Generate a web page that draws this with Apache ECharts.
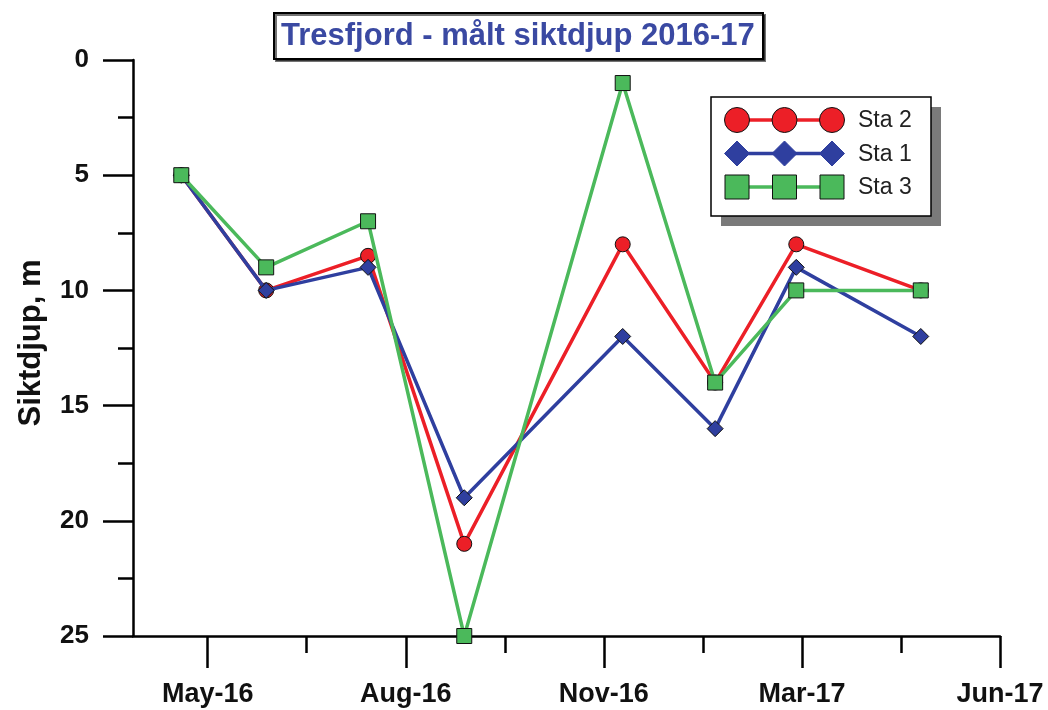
<!DOCTYPE html>
<html>
<head>
<meta charset="utf-8">
<script src="https://cdn.jsdelivr.net/npm/echarts@6/dist/echarts.min.js"></script>
<style>html,body{margin:0;padding:0;background:#fff;}#c{width:1048px;height:710px;}</style>
</head>
<body>
<div id="c"></div>
<script>
// ---- data ----
const titleText = 'Tresfjord - målt siktdjup 2016-17';
const yAxisName = 'Siktdjup, m';
const sampleDates = ['2016-04-17', '2016-06-01', '2016-07-25', '2016-09-14', '2016-12-07', '2017-01-25', '2017-03-09', '2017-05-14'];
const seriesNames = ['Sta 2', 'Sta 1', 'Sta 3'];
const sta2 = [5, 10, 8.5, 21, 8, 14, 8, 10];
const sta1 = [5, 10, 9, 19, 12, 16, 9, 12];
const sta3 = [5, 9, 7, 25, 1, 14, 10, 10];
const xOrigin = '2016-05-01';           // May-16 tick
const xMajorTickDays = [0, 105, 210, 315, 420];
const xMajorTickLabels = ['May-16', 'Aug-16', 'Nov-16', 'Mar-17', 'Jun-17'];
const xMinorTickDays = [52.5, 157.5, 262.5, 367.5];
const xMinDay = -39.6, xMaxDay = 420;
const yTicks = [0, 5, 10, 15, 20, 25];

// ---- helpers ----
const dayMs = 86400000;
const toDay = s => (Date.parse(s + 'T00:00:00Z') - Date.parse(xOrigin + 'T00:00:00Z')) / dayMs;
const xs = sampleDates.map(toDay);
const pairs = vals => vals.map((v, i) => [xs[i], v]);

const colors = { 'Sta 2': '#ec1f27', 'Sta 1': '#2f3f9f', 'Sta 3': '#4bb95b' };
const symbols = { 'Sta 2': 'circle', 'Sta 1': 'diamond', 'Sta 3': 'rect' };
const symSize = { 'Sta 2': 15, 'Sta 1': 16, 'Sta 3': 15 };
const valuesByName = { 'Sta 2': sta2, 'Sta 1': sta1, 'Sta 3': sta3 };
const FF = '"Liberation Sans", Arial, sans-serif';

const chart = echarts.init(document.getElementById('c'), null, { renderer: 'canvas' });

// legend drawn as graphic (three markers per entry, with shadow box)
const lgX = 711, lgY = 97, lgW = 220, lgH = 119;
const rowY = [120, 153.5, 187];
const symX = [737, 784.5, 832];
const legendEls = [
  { type: 'rect', shape: { x: lgX + 10, y: lgY + 10, width: lgW, height: lgH }, style: { fill: '#7a7a7a' }, z: 100 },
  { type: 'rect', shape: { x: lgX, y: lgY, width: lgW, height: lgH }, style: { fill: '#fff', stroke: '#000', lineWidth: 1.5 }, z: 101 }
];
seriesNames.forEach((name, r) => {
  const y = rowY[r], c = colors[name];
  legendEls.push({ type: 'line', shape: { x1: symX[0], y1: y, x2: symX[2], y2: y }, style: { stroke: c, lineWidth: 3.5 }, z: 102 });
  symX.forEach(x => {
    let el;
    if (name === 'Sta 2') el = { type: 'circle', shape: { cx: x, cy: y, r: 12.5 } };
    else if (name === 'Sta 1') el = { type: 'polygon', shape: { points: [[x, y - 12.5], [x + 12.5, y], [x, y + 12.5], [x - 12.5, y]] } };
    else el = { type: 'rect', shape: { x: x - 12, y: y - 12, width: 24, height: 24 } };
    el.style = { fill: c, stroke: name === 'Sta 1' ? c : '#111', lineWidth: 1 };
    el.z = 103;
    legendEls.push(el);
  });
  legendEls.push({ type: 'text', x: 858, y: y + 1, style: { text: name, font: '23px ' + FF, fill: '#222', verticalAlign: 'middle' }, z: 103 });
});

const option = {
  animation: false,
  backgroundColor: '#fff',
  title: {
    text: titleText,
    left: 274, top: 13,
    padding: [8, 8, 7, 7],
    backgroundColor: '#fff',
    borderColor: '#000',
    borderWidth: 2,
    shadowColor: 'rgba(0,0,0,0.55)', shadowOffsetX: 2, shadowOffsetY: 2, shadowBlur: 0,
    textStyle: { fontSize: 31, fontWeight: 'bold', color: '#3a49a2', fontFamily: FF }
  },
  grid: { left: 133, right: 48, top: 60, bottom: 74, containLabel: false },
  xAxis: [
    {
      type: 'value', min: xMinDay, max: xMaxDay, position: 'bottom',
      axisLine: { show: true, onZero: false, lineStyle: { color: '#000', width: 2.5 } },
      splitLine: { show: false },
      axisTick: { show: true, customValues: xMajorTickDays, length: 32, lineStyle: { color: '#000', width: 2.5 } },
      axisLabel: {
        customValues: xMajorTickDays, margin: 45,
        fontSize: 27, fontWeight: 'bold', color: '#111', fontFamily: FF,
        formatter: v => { const i = xMajorTickDays.indexOf(v); return i >= 0 ? xMajorTickLabels[i] : ''; }
      }
    },
    {
      type: 'value', min: xMinDay, max: xMaxDay, position: 'bottom', offset: 0,
      axisLine: { show: false, onZero: false },
      splitLine: { show: false },
      axisTick: { show: true, customValues: xMinorTickDays, length: 17, lineStyle: { color: '#000', width: 2.5 } },
      axisLabel: { show: false }
    }
  ],
  yAxis: {
    type: 'value', inverse: true, min: 0, max: 25, interval: 5,
    name: yAxisName, nameLocation: 'middle', nameGap: 86,
    nameTextStyle: { fontSize: 31, fontWeight: 'bold', color: '#111', fontFamily: FF, padding: [0, 0, 0, 10] },
    axisLine: { show: true, onZero: false, lineStyle: { color: '#000', width: 2.5 } },
    splitLine: { show: false },
    axisTick: { show: true, length: 30, lineStyle: { color: '#000', width: 2.5 } },
    minorTick: { show: true, splitNumber: 2, length: 15, lineStyle: { color: '#000', width: 2.5 } },
    axisLabel: { margin: 44, fontSize: 26, fontWeight: 'bold', color: '#111', fontFamily: FF,
      formatter: v => yTicks.indexOf(v) >= 0 ? String(v) : '' }
  },
  series: seriesNames.map((name, k) => ({
    name: name,
    type: 'line',
    xAxisIndex: 0,
    data: pairs(valuesByName[name]),
    symbol: symbols[name],
    symbolSize: symSize[name],
    showAllSymbol: true,
    z: 2 + k,
    lineStyle: { color: colors[name], width: 3.5 },
    itemStyle: { color: colors[name], borderColor: '#111', borderWidth: 1 },
    emphasis: { disabled: true }
  })),
  graphic: legendEls
};
chart.setOption(option);
</script>
</body>
</html>
